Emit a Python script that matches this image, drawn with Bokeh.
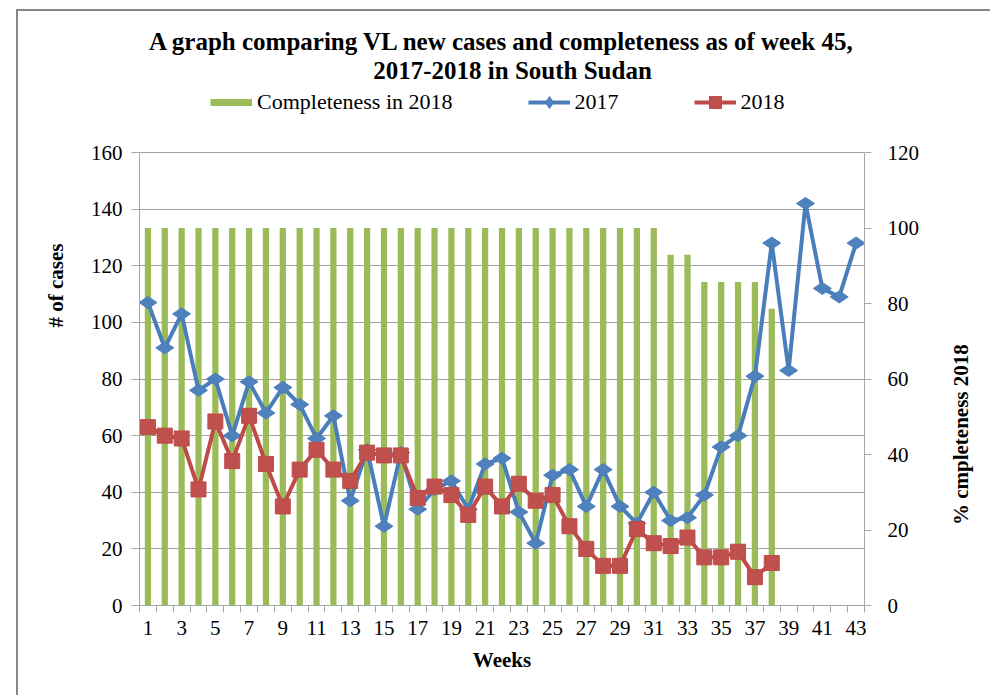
import math
from bokeh.plotting import figure
from bokeh.layouts import row
from bokeh.models import Range1d, LinearAxis, FixedTicker, Legend, LegendItem, Label, Title
from bokeh.embed import file_html
from bokeh.resources import INLINE

# ---------------- data ----------------
weeks = list(range(1, 44))
cases_2017 = [107, 91, 103, 76, 80, 60, 79, 68, 77, 71, 59, 67, 37, 55, 28, 54, 34, 41,
              44, 34, 50, 52, 33, 22, 46, 48, 35, 48, 35, 29, 40, 30, 31, 39, 56, 60,
              81, 128, 83, 142, 112, 109, 128]
weeks_2018 = list(range(1, 39))
cases_2018 = [63, 60, 59, 41, 65, 51, 67, 50, 35, 48, 55, 48, 44, 54, 53, 53, 38, 42,
              39, 32, 42, 35, 43, 37, 39, 28, 20, 14, 14, 27, 22, 21, 24, 17, 17, 19,
              10, 15]
completeness_2018 = [100, 100, 100, 100, 100, 100, 100, 100, 100, 100, 100, 100, 100,
                     100, 100, 100, 100, 100, 100, 100, 100, 100, 100, 100, 100, 100,
                     100, 100, 100, 100, 100, 92.9, 92.9, 85.7, 85.7, 85.7, 85.7, 78.6]
x_tick_labels = [1, 3, 5, 7, 9, 11, 13, 15, 17, 19, 21, 23, 25, 27, 29, 31, 33, 35, 37, 39, 41, 43]
left_ticks = [0, 20, 40, 60, 80, 100, 120, 140, 160]
right_ticks = [0, 20, 40, 60, 80, 100, 120]

title_line1 = "A graph comparing VL new cases and completeness as of week  45,"
title_line2 = "2017-2018 in South Sudan"
left_title = "# of cases"
right_title = "% cmpleteness 2018"
x_title = "Weeks"

# ---------------- style ----------------
BLUE_LINE = "#4A7EBB"
BLUE = "#4F81BD"
RED_LINE = "#BE4B48"
RED = "#C0504D"
GREEN = "#9BBB59"
GRID = "#a0a0a0"
AXIS = "#a8a8a8"
FONT = "Liberation Serif"

TOTAL_W, H = 972, 684
OX, OY = 18, 11                        # layout origin on screen (css margin + border)
SPLIT = 935                            # screen x where the side strip starts
W = SPLIT - OX
W2 = TOTAL_W - W
FL, FR, FB = 139, 864, 605             # plot area in screen px
FT_AXIS = 152                          # screen y of the top of the value axes
FT = 20                                # frame top (frame also holds title + legend)

LEFT_MAX = 160
RIGHT_MAX = 120
PX_PER_LEFT = (FB - FT_AXIS) / LEFT_MAX
PX_PER_RIGHT = (FB - FT_AXIS) / RIGHT_MAX

p = figure(width=W, height=H, output_backend="svg", toolbar_location=None,
           x_range=Range1d(0.5, 43.5),
           y_range=Range1d(0, (FB - FT) / PX_PER_LEFT),
           min_border_left=FL - OX, min_border_right=W - (FR - OX),
           min_border_top=FT - OY, min_border_bottom=H - (FB - OY))
p.extra_y_ranges = {"pct": Range1d(0, (FB - FT) / PX_PER_RIGHT)}
p.outline_line_color = None
p.background_fill_color = "white"
p.border_fill_color = "white"

def dx(sx):
    return 0.5 + (sx - FL) * 43.0 / (FR - FL)

def dy(sy):
    return (FB - sy) / PX_PER_LEFT

# grid
p.xgrid.visible = False
p.ygrid.ticker = FixedTicker(ticks=left_ticks)
p.ygrid.bounds = (0, LEFT_MAX)
p.ygrid.grid_line_color = GRID
p.ygrid.grid_line_width = 1

# x axis
xa = p.xaxis[0]
xa.ticker = FixedTicker(ticks=x_tick_labels, minor_ticks=[w - 0.5 for w in weeks] + [43.5])
xa.major_tick_in = 0
xa.major_tick_out = 0
xa.minor_tick_in = 0
xa.minor_tick_out = 7
xa.minor_tick_line_color = AXIS
xa.axis_line_color = AXIS
xa.major_label_text_font = FONT
xa.major_label_text_font_size = "21px"
xa.major_label_text_color = "black"
xa.major_label_standoff = 8
xa.axis_label = x_title
xa.axis_label_text_font = FONT
xa.axis_label_text_font_style = "bold"
xa.axis_label_text_font_size = "21px"
xa.axis_label_text_color = "black"
xa.axis_label_standoff = 10

# left axis
ya = p.yaxis[0]
ya.ticker = FixedTicker(ticks=left_ticks)
ya.bounds = (0, LEFT_MAX)
ya.major_tick_in = 0
ya.major_tick_out = 8
ya.major_tick_line_color = AXIS
ya.minor_tick_line_color = None
ya.axis_line_color = AXIS
ya.major_label_text_font = FONT
ya.major_label_text_font_size = "21px"
ya.major_label_text_color = "black"
ya.major_label_standoff = 9

# right axis
ra = LinearAxis(y_range_name="pct", ticker=FixedTicker(ticks=right_ticks), bounds=(0, RIGHT_MAX))
ra.major_tick_in = 0
ra.major_tick_out = 7
ra.major_tick_line_color = AXIS
ra.minor_tick_line_color = None
ra.axis_line_color = AXIS
ra.major_label_text_font = FONT
ra.major_label_text_font_size = "21px"
ra.major_label_text_color = "black"
ra.major_label_standoff = 16
p.add_layout(ra, "right")

# left axis title (off-centre, as in the reference)
p.add_layout(Title(text=left_title, align="left", offset=278, standoff=39,
                   vertical_align="bottom", text_font=FONT, text_font_style="bold",
                   text_font_size="21px", text_color="black"), "left")

# bars (secondary axis)
p.vbar(x=weeks_2018, top=completeness_2018, width=0.37, y_range_name="pct",
       fill_color=GREEN, line_color=None)

# 2017
l17 = p.line(weeks, cases_2017, line_color=BLUE_LINE, line_width=4)
m17 = p.scatter(weeks, cases_2017, marker="diamond", size=18, angle=math.pi / 2,
                fill_color=BLUE, line_color=BLUE_LINE, line_width=1)
# 2018
l18 = p.line(weeks_2018, cases_2018, line_color=RED_LINE, line_width=4)
m18 = p.scatter(weeks_2018, cases_2018, marker="square", size=15,
                fill_color=RED, line_color=RED_LINE, line_width=1)

# legend swatch for the bars (thick line kept outside the visible ranges)
bar_proxy = p.line(x=[-5, -4], y=[-5, -5], line_color=GREEN, line_width=7, line_cap="butt")

legend = Legend(items=[LegendItem(label="Completeness in 2018", renderers=[bar_proxy]),
                       LegendItem(label="2017", renderers=[l17, m17]),
                       LegendItem(label="2018", renderers=[l18, m18])],
                location=(210 - FL, FB - 117), orientation="horizontal",
                glyph_width=42, glyph_height=30, padding=0, margin=0, spacing=75,
                border_line_color=None, background_fill_alpha=0,
                label_standoff=5, label_text_font=FONT, label_text_font_size="22px",
                label_text_color="black")
p.add_layout(legend)

# title (two lines)
p.add_layout(Label(x=dx(505), y=dy(41), text=title_line1, text_font=FONT,
                   text_font_style="bold", text_font_size="25px", text_color="black",
                   text_align="center", text_baseline="middle"))
p.add_layout(Label(x=dx(512), y=dy(70), text=title_line2, text_font=FONT,
                   text_font_style="bold", text_font_size="25px", text_color="black",
                   text_align="center", text_baseline="middle"))

# side strip holding the right-hand axis title (reads bottom-to-top)
p2 = figure(width=W2, height=H, output_backend="svg", toolbar_location=None,
            x_range=Range1d(0, 1), y_range=Range1d(0, 1),
            x_axis_type=None, y_axis_type=None,
            min_border_left=0, min_border_right=0, min_border_top=0, min_border_bottom=0)
p2.grid.visible = False
p2.outline_line_color = None
p2.background_fill_color = "white"
p2.border_fill_color = "white"
p2.add_layout(Label(x=(960 - SPLIT) / W2, y=0.292, text=right_title,
                    text_font=FONT, text_font_style="bold", text_font_size="21px",
                    text_color="black", angle=math.pi / 2,
                    text_align="center", text_baseline="middle"))

layout = row(p, p2, spacing=0)
layout.styles = {"margin-left": "16px", "margin-top": "9px",
                 "border-left": "2px solid #868686", "border-top": "2px solid #868686"}

open("out.html", "w").write(file_html(layout, INLINE))
